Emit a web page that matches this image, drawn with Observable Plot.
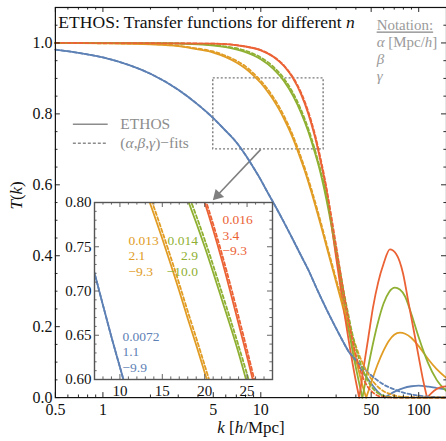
<!DOCTYPE html>
<html>
<head>
<meta charset="utf-8">
<script src="https://cdn.jsdelivr.net/npm/d3@7"></script>
<script src="https://cdn.jsdelivr.net/npm/@observablehq/plot@0.6"></script>
<style>
  html, body { margin: 0; padding: 0; background: #fff; overflow: hidden; }
  #wrap { position: relative; width: 446px; height: 441px; overflow: hidden; background: #fff; }
  #main, #inset { position: absolute; }
  #main { left: 0; top: 0; }
  #inset { left: 54px; top: 201px; }
  svg text { font-family: 'Liberation Serif', 'DejaVu Serif', serif; }
</style>
</head>
<body>
<div id="wrap"><div id="main"></div><div id="inset"></div></div>
<script>
// ---------------- data ----------------
const seriesKeys = ["s1", "s2", "s3", "s4"]; // blue, orange, green, red

const kBlue = [0.5, 0.7, 1, 1.5, 2, 3, 4, 5, 6, 7, 8, 9, 10, 11, 12, 14, 16, 18, 20, 23, 26, 30, 33, 36, 39, 42, 45, 50, 55, 61, 66, 72, 80, 90, 100, 115, 130, 150];
const tBlueEthos = [0.981, 0.972, 0.959, 0.936, 0.913, 0.868, 0.826, 0.788, 0.752, 0.72, 0.684, 0.648, 0.614, 0.58, 0.55, 0.495, 0.445, 0.40, 0.36, 0.30, 0.25, 0.195, 0.16, 0.13, 0.108, 0.088, 0.068, 0.04, 0.017, 0, 0.01, 0.019, 0.027, 0.032, 0.034, 0.031, 0.027, 0.023];
const tBlueFit = [0.981, 0.972, 0.959, 0.936, 0.913, 0.868, 0.826, 0.788, 0.752, 0.72, 0.684, 0.648, 0.614, 0.58, 0.55, 0.495, 0.445, 0.40, 0.36, 0.30, 0.25, 0.195, 0.16, 0.13, 0.112, 0.095, 0.081, 0.063, 0.048, 0.035, 0.028, 0.021, 0.014, 0.009, 0.0055, 0.0028, 0.0015, 0.0007];

const kOrange = [0.5, 1, 2, 3, 4, 5, 6, 7, 8, 9, 10, 11, 12, 13, 14, 15, 16, 17, 18, 19, 20, 21, 22, 24, 26, 28, 30, 32, 34, 36, 38, 40, 42, 44, 46.5, 48, 50, 55, 60, 65, 70, 76, 82, 90, 100, 115, 130, 150];
const tOrangeEthos = [1.0, 0.999, 0.996, 0.991, 0.982, 0.973, 0.960, 0.945, 0.928, 0.908, 0.887, 0.864, 0.840, 0.814, 0.787, 0.759, 0.730, 0.700, 0.669, 0.639, 0.608, 0.577, 0.546, 0.486, 0.428, 0.375, 0.326, 0.28, 0.235, 0.19, 0.15, 0.11, 0.07, 0.035, 0, 0.018, 0.042, 0.094, 0.133, 0.161, 0.177, 0.183, 0.18, 0.168, 0.145, 0.108, 0.08, 0.055];
const tOrangeFit = [1.0, 0.999, 0.997, 0.992, 0.984, 0.976, 0.964, 0.95, 0.934, 0.914, 0.893, 0.871, 0.847, 0.822, 0.795, 0.767, 0.738, 0.708, 0.677, 0.647, 0.616, 0.585, 0.554, 0.494, 0.436, 0.383, 0.334, 0.288, 0.246, 0.208, 0.174, 0.145, 0.12, 0.099, 0.077, 0.066, 0.053, 0.031, 0.018, 0.011, 0.006, 0.003, 0.0015, 0.0008, 0.0003, 0.0001, 0.00004, 0.00001];

const kGreen = [0.5, 2, 4, 6, 8, 10, 12, 14, 16, 18, 20, 22, 24, 26, 28, 30, 32, 34, 36, 38, 40, 42, 44, 47, 50, 55, 60, 65, 70.7, 76, 82, 90, 100, 114, 130, 150];
const tGreenEthos = [1.0, 0.9995, 0.996, 0.988, 0.974, 0.954, 0.927, 0.893, 0.851, 0.803, 0.750, 0.691, 0.630, 0.56, 0.485, 0.405, 0.33, 0.26, 0.195, 0.135, 0.085, 0.04, 0, 0.067, 0.128, 0.209, 0.266, 0.298, 0.31, 0.305, 0.285, 0.235, 0.17, 0.10, 0.05, 0.018];
const tGreenFit = [1.0, 0.9996, 0.997, 0.99, 0.978, 0.959, 0.933, 0.9, 0.859, 0.811, 0.758, 0.699, 0.638, 0.572, 0.495, 0.42, 0.35, 0.285, 0.23, 0.18, 0.14, 0.108, 0.082, 0.053, 0.032, 0.013, 0.005, 0.002, 0.0008, 0.0004, 0.0002, 0.0001, 0.00004, 0.00002, 0.00001, 0.000005];

const kRed = [0.5, 5, 8, 10, 12, 14, 16, 18, 20, 22, 24, 26, 28, 30, 32, 34, 36, 38, 40, 42, 45, 48, 51.4, 55.4, 60, 65.7, 72, 79.6, 86, 93, 100, 106, 113, 120, 130, 140, 150];
const tRedEthos = [1.0, 0.998, 0.99, 0.979, 0.961, 0.935, 0.9, 0.855, 0.8, 0.736, 0.663, 0.586, 0.49, 0.395, 0.31, 0.232, 0.162, 0.10, 0.046, 0, 0.09, 0.17, 0.255, 0.325, 0.378, 0.418, 0.405, 0.35, 0.27, 0.19, 0.115, 0.055, 0, 0.012, 0.024, 0.03, 0.032];
const tRedFit = [1.0, 0.998, 0.99, 0.98, 0.962, 0.937, 0.903, 0.86, 0.806, 0.743, 0.671, 0.594, 0.51, 0.428, 0.35, 0.279, 0.217, 0.164, 0.121, 0.086, 0.05, 0.028, 0.014, 0.005, 0.0015, 0.0004, 0.0001, 0.00003, 0.00001, 0.000005, 0.000002, 0.000001, 0.0000005, 0.0000002, 0.0000001, 0.00000005, 0.00000002];

// fit parameters printed in the inset (alpha [Mpc/h], beta, gamma)
const alphaLabels = ["0.0072", "0.013", "0.014", "0.016"];
const betaLabels = ["1.1", "2.1", "2.9", "3.4"];
const gammaLabels = ["\u22129.9", "\u22129.3", "\u221210.0", "\u22129.3"];

// tick values
const xMajorTicks = [0.5, 1, 5, 10, 50, 100];
const xMinorTicks = [0.6, 0.7, 0.8, 0.9, 2, 3, 4, 6, 7, 8, 9, 20, 30, 40, 60, 70, 80, 90];
const yMajorTicks = [0, 0.2, 0.4, 0.6, 0.8, 1.0];
const yMinorTicks = [0.05, 0.1, 0.15, 0.25, 0.3, 0.35, 0.45, 0.5, 0.55, 0.65, 0.7, 0.75, 0.85, 0.9, 0.95, 1.05];
const insetXMajor = [10, 15, 20, 25];
const insetXMinor = [7, 8, 9, 11, 12, 13, 14, 16, 17, 18, 19, 21, 22, 23, 24, 26, 27, 28];
const insetYMajor = [0.6, 0.65, 0.7, 0.75, 0.8];
const insetYMinor = [0.61, 0.62, 0.63, 0.64, 0.66, 0.67, 0.68, 0.69, 0.71, 0.72, 0.73, 0.74, 0.76, 0.77, 0.78, 0.79];

// texts
const titleText = "ETHOS: Transfer functions for different n";
const xLabelText = "k [h/Mpc]";
const yLabelText = "T(k)";
const notationLines = ["Notation:", "\u03b1 [Mpc/h]", "\u03b2", "\u03b3"];
const legendLabels = ["ETHOS", "(\u03b1,\u03b2,\u03b3)\u2212fits"];

// ---------------- build tables ----------------
const colorRange = ["#5E81B5", "#E19C24", "#8FB032", "#EB6235"];
const seriesTable = [
  {key: "s1", k: kBlue, ethos: tBlueEthos, fit: tBlueFit},
  {key: "s2", k: kOrange, ethos: tOrangeEthos, fit: tOrangeFit},
  {key: "s3", k: kGreen, ethos: tGreenEthos, fit: tGreenFit},
  {key: "s4", k: kRed, ethos: tRedEthos, fit: tRedFit}
];
function toRows(key, kind, ks, ts) {
  const out = [];
  let seg = 0;
  ks.forEach((k, i) => {
    out.push({key, k, T: ts[i], id: key + kind + seg});
    if (ts[i] === 0 && i > 0 && i < ks.length - 1) {
      seg++;
      out.push({key, k, T: ts[i], id: key + kind + seg});
    }
  });
  return out;
}
const ethosRows = seriesTable.flatMap(s => toRows(s.key, "e", s.k, s.ethos));
const fitRows = seriesTable.flatMap(s => toRows(s.key, "f", s.k, s.fit));
const paramRows = seriesKeys.map((key, i) => ({key, text: alphaLabels[i] + "\n" + betaLabels[i] + "\n" + gammaLabels[i]}));

const SERIF = "Liberation Serif";
const colorScale = {type: "ordinal", domain: seriesKeys, range: colorRange};

// ---------------- main plot ----------------
const W = 447, H = 441, ML = 55, MR = 0, MT = 7, MB = 43;
const FW = W - ML - MR, FH = H - MT - MB;
const MAJ = 5, MIN = 2.6;
const tickStyle = {stroke: "#111", strokeWidth: 0.9};

const main = Plot.plot({
  width: W, height: H,
  marginLeft: ML, marginRight: MR, marginTop: MT, marginBottom: MB,
  style: {fontFamily: SERIF, fontSize: "16px", background: "transparent", overflow: "visible"},
  x: {type: "log", domain: [0.5, 150], label: null, axis: null},
  y: {domain: [0, 1.1], label: null},
  color: colorScale,
  marks: [
    // zoom box and arrow pointing to the inset
    Plot.rect([{k1: 5, k2: 25, T1: 0.7, T2: 0.9}], {x1: "k1", x2: "k2", y1: "T1", y2: "T2", fill: "none", stroke: "#7a7a7a", strokeWidth: 1.4, strokeDasharray: "2,2"}),
    Plot.link([{k1: 10, T1: 0.7, k2: 5.35, T2: 0.572}], {x1: "k1", y1: "T1", x2: "k2", y2: "T2", stroke: "#808080", strokeWidth: 1.6}),
    Plot.dot([{k: 5.32, T: 0.570}], {x: "k", y: "T", symbol: "triangle", r: 4.4, rotate: 224, fill: "#808080", stroke: "none"}),
    // curves
    Plot.line(ethosRows, {x: "k", y: "T", z: "id", stroke: "key", strokeWidth: 1.8, curve: "monotone-x"}),
    Plot.line(fitRows, {x: "k", y: "T", z: "id", stroke: "key", strokeWidth: 1.8, strokeDasharray: "3.5,2.5", curve: "monotone-x"}),
    // inward frame ticks
    Plot.tickX(xMajorTicks, {x: d => d, insetTop: FH - MAJ, ...tickStyle}),
    Plot.tickX(xMinorTicks, {x: d => d, insetTop: FH - MIN, ...tickStyle}),
    Plot.tickX(xMajorTicks, {x: d => d, insetBottom: FH - MAJ, ...tickStyle}),
    Plot.tickX(xMinorTicks, {x: d => d, insetBottom: FH - MIN, ...tickStyle}),
    Plot.tickY(yMajorTicks, {y: d => d, insetRight: FW - MAJ, ...tickStyle}),
    Plot.tickY(yMinorTicks, {y: d => d, insetRight: FW - MIN, ...tickStyle}),
    Plot.tickY(yMajorTicks, {y: d => d, insetLeft: FW - MAJ, ...tickStyle}),
    Plot.tickY(yMinorTicks, {y: d => d, insetLeft: FW - MIN, ...tickStyle}),
    Plot.frame({stroke: "#111", strokeWidth: 1.2}),
    // x tick labels (log scale) and y axis
    Plot.text(xMajorTicks, {x: d => d, text: d => String(d), frameAnchor: "bottom", lineAnchor: "top", dy: 6, fontSize: 16, fontFamily: SERIF, fill: "#111"}),
    Plot.axisY(yMajorTicks, {tickSize: 0, tickPadding: 3, fontSize: 16, fontFamily: SERIF, fontVariant: "normal", tickFormat: d3.format(".1f"), fill: "#111"}),
    // title, labels, notation, legend
    Plot.text([titleText], {text: d => d, frameAnchor: "top-left", dx: 3, dy: 20.5, lineAnchor: "bottom", textAnchor: "start", fontSize: 17.6, fontFamily: SERIF, fill: "#111"}),
    Plot.text([notationLines.join("\n")], {text: d => d, frameAnchor: "top-left", dx: 322, dy: 10.9, lineAnchor: "top", lineHeight: 1.1333, textAnchor: "start", fontSize: 15, fontFamily: SERIF, fill: "#9a9a9a"}),
    Plot.text([xLabelText], {text: d => d, frameAnchor: "bottom", dy: 35, fontSize: 17, fontFamily: SERIF, fill: "#111"}),
    Plot.text([yLabelText], {text: d => d, frameAnchor: "left", dx: -39, dy: 7, rotate: -90, fontSize: 17, fontFamily: SERIF, fill: "#111"}),
    Plot.ruleY([0.771], {y: d => d, x1: 0.65, x2: 1.08, stroke: "#8c8c8c", strokeWidth: 1.5}),
    Plot.ruleY([0.717], {y: d => d, x1: 0.65, x2: 1.08, stroke: "#8c8c8c", strokeWidth: 1.5, strokeDasharray: "3,2"}),
    Plot.text([legendLabels[0]], {text: d => d, x: 1.29, y: 0.771, textAnchor: "start", fontSize: 15.5, fontFamily: SERIF, fill: "#8c8c8c"}),
    Plot.text([legendLabels[1]], {text: d => d, x: 1.29, y: 0.717, textAnchor: "start", fontSize: 15.5, fontFamily: SERIF, fill: "#8c8c8c"})
  ]
});
document.getElementById("main").appendChild(main);

// ---------------- inset ----------------
const Wi = 219, Hi = 202, MLi = 40, MRi = 1, MTi = 1, MBi = 24;
const FWi = Wi - MLi - MRi, FHi = Hi - MTi - MBi;
const iTick = {stroke: "#555", strokeWidth: 0.9};
const startKeys = ["s1", "s2", "s4"];
const labelSpot = {s1: [10.3, 0.656], s2: [11.0, 0.765], s3: [19.2, 0.765], s4: [22.1, 0.788]};

const inset = Plot.plot({
  width: Wi, height: Hi,
  marginLeft: MLi, marginRight: MRi, marginTop: MTi, marginBottom: MBi,
  style: {fontFamily: SERIF, fontSize: "15px", background: "transparent", overflow: "visible"},
  x: {domain: [7, 28], label: null},
  y: {domain: [0.6, 0.8], label: null},
  color: colorScale,
  marks: [
    Plot.frame({fill: "white", stroke: "none"}),
    Plot.line(ethosRows, {x: "k", y: "T", z: "id", stroke: "key", strokeWidth: 1.8, curve: "monotone-x", clip: true}),
    Plot.line(fitRows, {x: "k", y: "T", z: "id", stroke: "key", strokeWidth: 1.8, strokeDasharray: "3.5,2.5", curve: "monotone-x", clip: true}),
    Plot.text(paramRows.filter(d => startKeys.includes(d.key)), {x: d => labelSpot[d.key][0], y: d => labelSpot[d.key][1], text: "text", fill: "key", textAnchor: "start", lineAnchor: "top", lineHeight: 1.15, fontSize: 13.5, fontFamily: SERIF}),
    Plot.text(paramRows.filter(d => d.key === "s3"), {x: d => labelSpot[d.key][0], y: d => labelSpot[d.key][1], text: "text", fill: "key", textAnchor: "end", lineAnchor: "top", lineHeight: 1.15, fontSize: 13.5, fontFamily: SERIF}),
    Plot.tickX(insetXMajor, {x: d => d, insetTop: FHi - MAJ, ...iTick}),
    Plot.tickX(insetXMinor, {x: d => d, insetTop: FHi - MIN, ...iTick}),
    Plot.tickX(insetXMajor, {x: d => d, insetBottom: FHi - MAJ, ...iTick}),
    Plot.tickX(insetXMinor, {x: d => d, insetBottom: FHi - MIN, ...iTick}),
    Plot.tickY(insetYMajor, {y: d => d, insetRight: FWi - MAJ, ...iTick}),
    Plot.tickY(insetYMinor, {y: d => d, insetRight: FWi - MIN, ...iTick}),
    Plot.tickY(insetYMajor, {y: d => d, insetLeft: FWi - MAJ, ...iTick}),
    Plot.tickY(insetYMinor, {y: d => d, insetLeft: FWi - MIN, ...iTick}),
    Plot.frame({stroke: "#555", strokeWidth: 1.4}),
    Plot.axisX(insetXMajor, {tickSize: 0, tickPadding: 6, fontSize: 15, fontFamily: SERIF, fontVariant: "normal", tickFormat: d => String(d), fill: "#111"}),
    Plot.axisY(insetYMajor, {tickSize: 0, tickPadding: 3, fontSize: 15, fontFamily: SERIF, fontVariant: "normal", tickFormat: d3.format(".2f"), fill: "#111"})
  ]
});
document.getElementById("inset").appendChild(inset);

// ---------------- rich text (italics / underline) ----------------
function richify(root, plain, parts, extra) {
  root.querySelectorAll("text, tspan").forEach(el => {
    if (el.children.length === 0 && el.textContent === plain) {
      el.textContent = "";
      for (const [s, it] of parts) {
        const ts = document.createElementNS("http://www.w3.org/2000/svg", "tspan");
        ts.textContent = s;
        if (it) ts.setAttribute("font-style", "italic");
        el.appendChild(ts);
      }
      if (extra) extra(el);
    }
  });
}
richify(main, titleText, [["ETHOS: Transfer functions for different ", false], ["n", true]]);
richify(main, xLabelText, [["k", true], [" [", false], ["h", true], ["/Mpc]", false]]);
richify(main, yLabelText, [["T", true], ["(", false], ["k", true], [")", false]]);
richify(main, notationLines[0], [["Notation:", false]], el => el.setAttribute("text-decoration", "underline"));
richify(main, notationLines[1], [["\u03b1", true], [" [Mpc/", false], ["h", true], ["]", false]]);
richify(main, notationLines[2], [["\u03b2", true]]);
richify(main, notationLines[3], [["\u03b3", true]]);
richify(main, legendLabels[1], [["(", false], ["\u03b1", true], [",", false], ["\u03b2", true], [",", false], ["\u03b3", true], [")\u2212fits", false]]);
</script>
</body>
</html>
